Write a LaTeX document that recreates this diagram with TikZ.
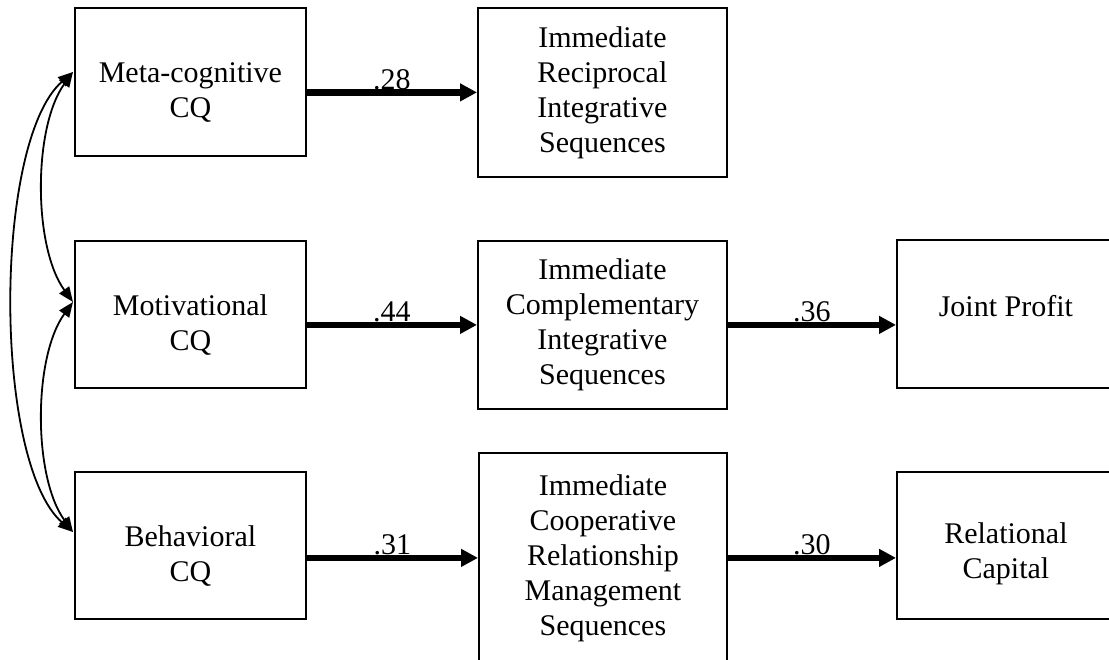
\documentclass[tikz,border=0pt]{standalone}
\usepackage{fontspec}
\setmainfont{Liberation Serif}
\usetikzlibrary{arrows.meta,calc}
\begin{document}
\begin{tikzpicture}[x=1pt,y=-1pt,
  box/.style={draw=black,line width=1.8pt,inner sep=0pt,anchor=north west},
  lbl/.style={align=center,inner sep=0pt,font=\fontsize{30}{35}\selectfont},
  path/.style={line width=6.7pt,-{Triangle[length=17pt,width=17pt]}},
  corr/.style={line width=1.8pt,{Triangle[length=15pt,width=12pt]}-{Triangle[length=15pt,width=12pt]}},
  coef/.style={anchor=base,inner sep=0pt,yshift=3.3pt,font=\fontsize{30}{35}\selectfont}]
\useasboundingbox (0,0) rectangle (1109,660);
\clip (0,0) rectangle (1109,660);

% boxes
\node[box,minimum width=231pt,minimum height=148pt] (meta)   at (74,7)    {};
\node[box,minimum width=231pt,minimum height=147pt] (motiv)  at (74,240)  {};
\node[box,minimum width=231pt,minimum height=147pt] (behav)  at (74,471)  {};
\node[box,minimum width=249pt,minimum height=169pt] (imm1)   at (477,7)   {};
\node[box,minimum width=249pt,minimum height=168pt] (imm2)   at (477,240) {};
\node[box,minimum width=248pt,minimum height=210pt] (imm3)   at (478,452) {};
\node[box,minimum width=218pt,minimum height=148pt] (joint)  at (896,239) {};
\node[box,minimum width=218pt,minimum height=147pt] (relcap) at (896,471) {};

% texts
\node[lbl] (tmeta)   at ($(meta.center)+(0,11)$)   {Meta-cognitive\\CQ};
\node[lbl] (tmotiv)  at ($(motiv.center)+(0,11)$)  {Motivational\\CQ};
\node[lbl] (tbehav)  at ($(behav.center)+(0,11)$)  {Behavioral\\CQ};
\node[lbl] (timm1)   at (imm1.center) {Immediate\\Reciprocal\\Integrative\\Sequences};
\node[lbl] (timm2)   at (imm2.center) {Immediate\\Complementary\\Integrative\\Sequences};
\node[lbl] (timm3)   at (imm3.center) {Immediate\\Cooperative\\Relationship\\Management\\Sequences};
\node[lbl] (tjoint)  at ($(joint.center)+(0,-8)$)  {Joint Profit};
\node[lbl] (trelcap) at ($(relcap.center)+(0,8)$)  {Relational\\Capital};

% paths with coefficients
\draw[path] (meta.east |- imm1.west) -- (imm1.west) node[midway,coef] {.28};
\draw[path] (motiv.east |- imm2.west) -- (imm2.west) node[midway,coef] {.44};
\draw[path] (behav.east |- imm3.west) -- (imm3.west) node[midway,coef] {.31};
\draw[path] (imm2.east) -- (joint.west |- imm2.east) node[midway,coef] {.36};
\draw[path] (imm3.east) -- (relcap.west |- imm3.east) node[midway,coef] {.30};

% correlations among the CQ facets
\coordinate (mIn) at ($(meta.north west)+(-1,65)$);
\coordinate (vIn) at ($(motiv.north west)+(-1,62)$);
\coordinate (bIn) at ($(behav.north west)+(-1,61)$);
\draw[corr] (mIn) .. controls ($(mIn)+(-40,55)$) and ($(vIn)+(-40,-55)$) .. (vIn);
\draw[corr] (vIn) .. controls ($(vIn)+(-40,55)$) and ($(bIn)+(-40,-55)$) .. (bIn);
\draw[corr] (mIn) .. controls ($(mIn)+(-80,70)$) and ($(bIn)+(-80,-70)$) .. (bIn);
\end{tikzpicture}
\end{document}
